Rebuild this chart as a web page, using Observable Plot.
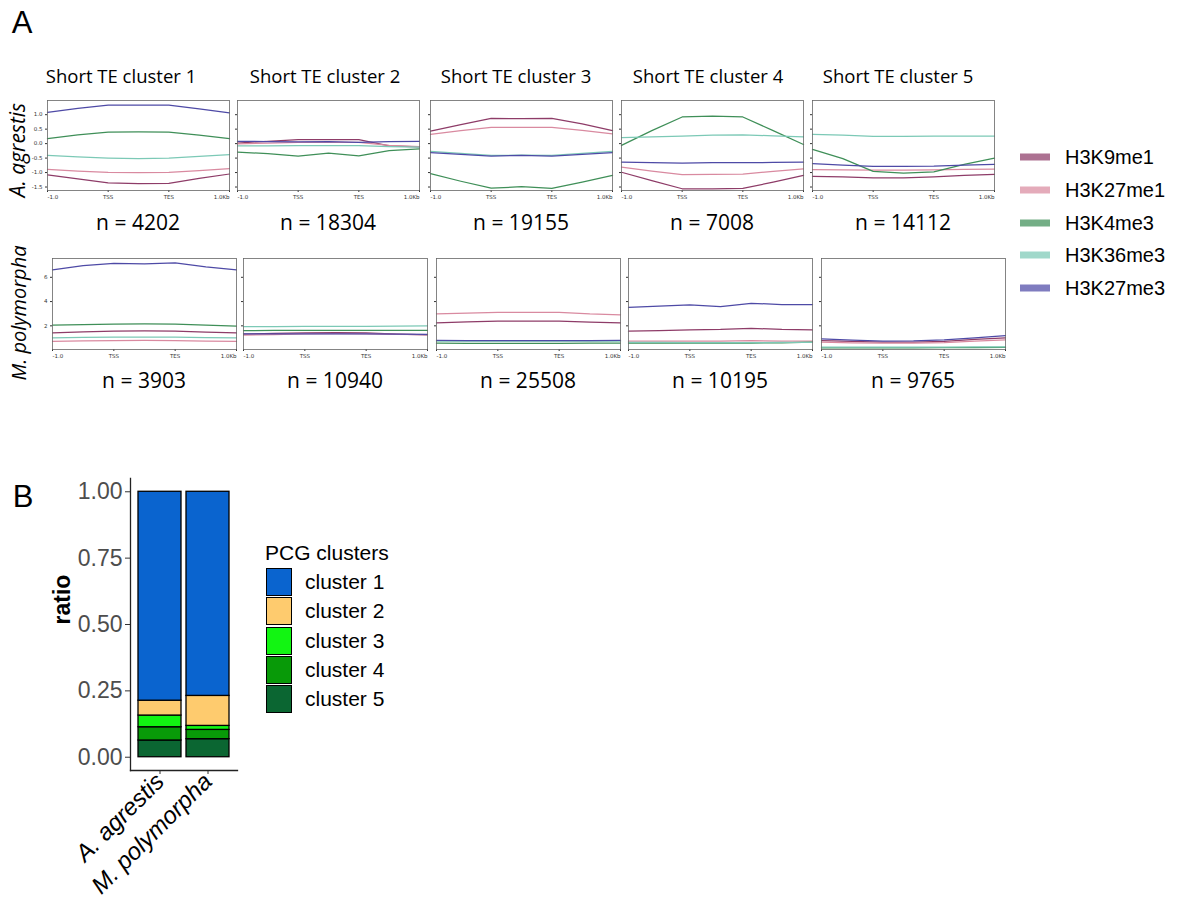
<!DOCTYPE html>
<html>
<head>
<meta charset="utf-8">
<script src="https://cdn.jsdelivr.net/npm/d3@7"></script>
<script src="https://cdn.jsdelivr.net/npm/@observablehq/plot@0.6"></script>
<style>
  html, body { margin: 0; padding: 0; background: #fff; }
  #fig { position: relative; width: 1188px; height: 911px; overflow: hidden; background: #fff; }
  #fig > * { position: absolute; }
  .lbl { white-space: nowrap; transform: translate(-50%, -50%); font-family: "Open Sans", sans-serif; color: #000; }
</style>
</head>
<body>
<div id="fig"></div>
<script>
// ---- Panel A: histone mark profiles over short TE clusters (scaled regions) ----
const xBins = [0, 0.5, 1, 1.5, 2, 2.5, 3];          // -1.0 kb … TSS … TES … +1.0 kb
const xTickLabels = ["-1.0", "TSS", "TES", "1.0Kb"];
const markNames = ["H3K9me1", "H3K27me1", "H3K4me3", "H3K36me3", "H3K27me3"];
const lineColors = ["#8e3c68", "#d98aa0", "#3f8f58", "#7cc9b6", "#4e4aa6"];
const clusterTitles = ["Short TE cluster 1", "Short TE cluster 2", "Short TE cluster 3", "Short TE cluster 4", "Short TE cluster 5"];

// A. agrestis (rows follow markNames order)
const aa1 = [[-1.08, -1.22, -1.36, -1.38, -1.37, -1.20, -1.05],
             [-0.89, -0.95, -0.99, -1.00, -0.99, -0.93, -0.86],
             [0.17, 0.30, 0.40, 0.41, 0.40, 0.29, 0.17],
             [-0.41, -0.46, -0.50, -0.52, -0.50, -0.44, -0.38],
             [1.08, 1.22, 1.33, 1.33, 1.33, 1.20, 1.06]];
const aa2 = [[0.02, 0.08, 0.14, 0.14, 0.14, -0.08, -0.11],
             [-0.01, 0.02, 0.04, 0.04, 0.04, -0.06, -0.10],
             [-0.29, -0.35, -0.43, -0.33, -0.42, -0.24, -0.18],
             [-0.08, -0.08, -0.07, -0.07, -0.07, -0.10, -0.12],
             [0.08, 0.07, 0.06, 0.07, 0.04, 0.07, 0.08]];
const aa3 = [[0.43, 0.66, 0.87, 0.86, 0.87, 0.68, 0.45],
             [0.32, 0.45, 0.56, 0.56, 0.56, 0.46, 0.34],
             [-1.04, -1.30, -1.54, -1.49, -1.55, -1.33, -1.10],
             [-0.27, -0.34, -0.41, -0.40, -0.41, -0.34, -0.27],
             [-0.31, -0.37, -0.43, -0.41, -0.43, -0.37, -0.31]];
const aa4 = [[-0.99, -1.28, -1.56, -1.56, -1.55, -1.33, -1.10],
             [-0.81, -0.95, -1.07, -1.06, -1.05, -0.96, -0.87],
             [-0.06, 0.45, 0.92, 0.95, 0.92, 0.45, -0.03],
             [0.21, 0.23, 0.26, 0.29, 0.30, 0.27, 0.23],
             [-0.64, -0.66, -0.67, -0.66, -0.66, -0.65, -0.64]];
const aa5 = [[-1.13, -1.15, -1.18, -1.18, -1.15, -1.10, -1.06],
             [-0.90, -0.91, -0.92, -0.92, -0.91, -0.89, -0.88],
             [-0.20, -0.52, -0.96, -1.02, -0.98, -0.72, -0.50],
             [0.32, 0.29, 0.25, 0.25, 0.26, 0.26, 0.26],
             [-0.69, -0.74, -0.79, -0.79, -0.78, -0.74, -0.72]];

// M. polymorpha
const mp1 = [[1.42, 1.50, 1.56, 1.58, 1.56, 1.48, 1.42],
             [0.71, 0.76, 0.79, 0.80, 0.79, 0.75, 0.71],
             [2.05, 2.10, 2.15, 2.17, 2.15, 2.05, 1.98],
             [1.01, 1.04, 1.06, 1.07, 1.06, 1.03, 1.01],
             [6.61, 6.96, 7.15, 7.10, 7.18, 6.85, 6.61]];
const mp2 = [[1.32, 1.38, 1.42, 1.45, 1.42, 1.32, 1.26],
             [1.24, 1.28, 1.33, 1.35, 1.33, 1.30, 1.28],
             [1.61, 1.62, 1.62, 1.63, 1.62, 1.62, 1.63],
             [1.94, 1.94, 1.95, 1.96, 1.96, 1.97, 1.99],
             [1.34, 1.34, 1.33, 1.33, 1.33, 1.31, 1.30]];
const mp3 = [[2.25, 2.32, 2.38, 2.38, 2.38, 2.30, 2.25],
             [2.99, 3.05, 3.12, 3.10, 3.12, 2.98, 2.91],
             [0.57, 0.56, 0.56, 0.56, 0.56, 0.57, 0.58],
             [0.74, 0.74, 0.74, 0.74, 0.74, 0.74, 0.74],
             [0.80, 0.79, 0.79, 0.79, 0.79, 0.79, 0.80]];
const mp4 = [[1.56, 1.60, 1.66, 1.70, 1.80, 1.70, 1.66],
             [0.73, 0.74, 0.74, 0.75, 0.78, 0.75, 0.73],
             [0.57, 0.57, 0.57, 0.58, 0.58, 0.60, 0.66],
             [0.63, 0.63, 0.62, 0.62, 0.62, 0.63, 0.64],
             [3.53, 3.62, 3.73, 3.58, 3.86, 3.75, 3.75]];
const mp5 = [[0.79, 0.72, 0.65, 0.66, 0.72, 0.88, 1.01],
             [0.65, 0.60, 0.57, 0.57, 0.62, 0.74, 0.85],
             [0.19, 0.19, 0.19, 0.19, 0.20, 0.21, 0.22],
             [0.24, 0.24, 0.24, 0.24, 0.25, 0.26, 0.27],
             [0.93, 0.82, 0.73, 0.76, 0.85, 1.00, 1.20]];

const aaCounts = [4202, 18304, 19155, 7008, 14112];
const mpCounts = [3903, 10940, 25508, 10195, 9765];
const aaTicks = [-1.5, -1.0, -0.5, 0.0, 0.5, 1.0];
const mpTicks = [2, 4, 6];

// ---- Panel B: PCG cluster ratios ----
const species = ["A. agrestis", "M. polymorpha"];
const clusters = ["cluster 1", "cluster 2", "cluster 3", "cluster 4", "cluster 5"];
const clusterColors = ["#0a64cf", "#fecb6e", "#12f512", "#089a08", "#0b6632"];
const ratioAgrestis = [0.787, 0.056, 0.044, 0.050, 0.063];     // cluster 1 … 5
const ratioPolymorpha = [0.769, 0.113, 0.015, 0.035, 0.068];
const ratioTicks = [0, 0.25, 0.5, 0.75, 1];

const fig = document.getElementById("fig");

function place(el, left, top) {
  el.style.left = left + "px";
  el.style.top = top + "px";
  fig.appendChild(el);
  return el;
}
function label(text, cx, cy, css) {
  const d = document.createElement("div");
  d.className = "lbl";
  d.textContent = text;
  Object.assign(d.style, css || {});
  return place(d, cx, cy);
}

const ML = 26, MR = 6, MT = 4, MB = 16;

function profile(series, w, h, domain, ticks, showLabels, fmt) {
  const rows = series.flatMap((vals, i) =>
    vals.map((v, j) => ({pos: xBins[j], value: v, mark: markNames[i]})));
  return Plot.plot({
    width: w + ML + MR, height: h + MT + MB,
    marginLeft: ML, marginRight: MR, marginTop: MT, marginBottom: MB,
    style: {fontFamily: "DejaVu Sans, sans-serif", background: "transparent", overflow: "visible", color: "#333"},
    x: {domain: [0, 3]},
    y: {domain},
    color: {domain: markNames, range: lineColors},
    marks: [
      Plot.axisY({ticks, tickSize: 2, tickPadding: 3, fontSize: 5.5, label: null,
                  tickFormat: showLabels ? fmt : () => ""}),
      Plot.axisX({ticks: [0], tickFormat: () => xTickLabels[0], textAnchor: "start", tickSize: 2, tickPadding: 3, fontSize: 5.5, label: null}),
      Plot.axisX({ticks: [1, 2], tickFormat: d => xTickLabels[d], tickSize: 2, tickPadding: 3, fontSize: 5.5, label: null}),
      Plot.axisX({ticks: [3], tickFormat: () => xTickLabels[3], textAnchor: "end", tickSize: 2, tickPadding: 3, fontSize: 5.5, label: null}),
      Plot.line(rows, {x: "pos", y: "value", z: "mark", stroke: "mark", strokeWidth: 1.25}),
      Plot.frame({stroke: "#666", strokeWidth: 0.8})
    ]
  });
}

// panel letters
label("A", 22, 23, {fontFamily: "Liberation Sans, Arial, sans-serif", fontSize: "31px"});
label("B", 23, 497, {fontFamily: "Liberation Sans, Arial, sans-serif", fontSize: "31px"});

// top row: A. agrestis
const topLefts = [47, 237, 430, 621, 812];
const topTitleX = [121, 325, 516, 708, 898];
const aaSeries = [aa1, aa2, aa3, aa4, aa5];
aaSeries.forEach((s, k) => {
  place(profile(s, 182, 90, [-1.62, 1.49], aaTicks, k === 0, d => d.toFixed(1)), topLefts[k] - ML, 100 - MT);
  label(clusterTitles[k], topTitleX[k], 75, {fontSize: "18.5px"});
  label("n = " + aaCounts[k], topLefts[k] + 91, 222, {fontSize: "21px"});
});

// bottom row: M. polymorpha
const botLefts = [52, 243, 436, 628, 821];
const mpSeries = [mp1, mp2, mp3, mp4, mp5];
mpSeries.forEach((s, k) => {
  place(profile(s, 184, 91, [0.05, 7.55], mpTicks, k === 0, d => String(d)), botLefts[k] - ML, 258 - MT);
  label("n = " + mpCounts[k], botLefts[k] + 92, 380, {fontSize: "21px"});
});

// species row labels
label("A. agrestis", 17, 150, {fontSize: "21px", fontStyle: "italic", transform: "translate(-50%, -50%) rotate(-90deg)"});
label("M. polymorpha", 18, 313, {fontSize: "20px", fontStyle: "italic", transform: "translate(-50%, -50%) rotate(-90deg)"});

// legend for histone marks
markNames.forEach((m, i) => {
  const y = 157 + i * 32.8;
  const sw = document.createElement("div");
  Object.assign(sw.style, {width: "30px", height: "7px", background: lineColors[i], opacity: 0.72, transform: "translateY(-50%)"});
  place(sw, 1020, y);
  label(m, 1065, y, {fontFamily: "Liberation Sans, Arial, sans-serif", fontSize: "20px", transform: "translate(0, -50%)"});
});

// ---- Panel B chart ----
const ratioRows = [];
[ratioAgrestis, ratioPolymorpha].forEach((vals, s) => {
  // stack from cluster 5 (bottom) to cluster 1 (top)
  for (let c = clusters.length - 1; c >= 0; c--) {
    ratioRows.push({species: species[s], cluster: clusters[c], ratio: vals[c]});
  }
});

const BMT = 8, BFRAME = 292;
const barChart = Plot.plot({
  width: 250, height: BMT + BFRAME + 140,
  marginLeft: 130, marginRight: 13, marginTop: BMT, marginBottom: 140,
  style: {fontFamily: "Liberation Sans, Arial, sans-serif", background: "transparent", overflow: "visible"},
  x: {domain: species, paddingInner: 0.1, paddingOuter: 0.15, align: 0.5},
  y: {domain: [-0.05, 1.05]},
  color: {domain: clusters, range: clusterColors},
  marks: [
    Plot.barY(ratioRows, {x: "species", y: "ratio", fill: "cluster", stroke: "#000", strokeWidth: 1.3}),
    Plot.axisY({ticks: ratioTicks, tickFormat: d => d.toFixed(2), fontSize: 23, tickSize: 5, tickPadding: 3,
                label: null, color: "#4d4d4d", stroke: "#333"}),
    Plot.axisX({tickRotate: -45, fontSize: 24, fontStyle: "italic", tickSize: 4, tickPadding: 3,
                label: null, color: "#000", stroke: "#333"}),
    Plot.frame({anchor: "left", stroke: "#222", strokeWidth: 1.3}),
    Plot.frame({anchor: "bottom", stroke: "#222", strokeWidth: 1.3}),
    Plot.text(["ratio"], {frameAnchor: "left", dx: -68, rotate: -90, fontWeight: "bold", fontSize: 23, fill: "#000"})
  ]
});
place(barChart, 0, 478 - BMT);

// legend for PCG clusters
label("PCG clusters", 265, 553, {fontFamily: "Liberation Sans, Arial, sans-serif", fontSize: "21px", transform: "translate(0, -50%)"});
clusters.forEach((c, i) => {
  const y = 582 + i * 29.25;
  const key = document.createElement("div");
  Object.assign(key.style, {width: "24px", height: "26px", background: clusterColors[i], border: "1.5px solid #000",
                            transform: "translateY(-50%)", boxSizing: "content-box"});
  place(key, 266, y);
  label(c, 305, y, {fontFamily: "Liberation Sans, Arial, sans-serif", fontSize: "21px", transform: "translate(0, -50%)"});
});
</script>
</body>
</html>
